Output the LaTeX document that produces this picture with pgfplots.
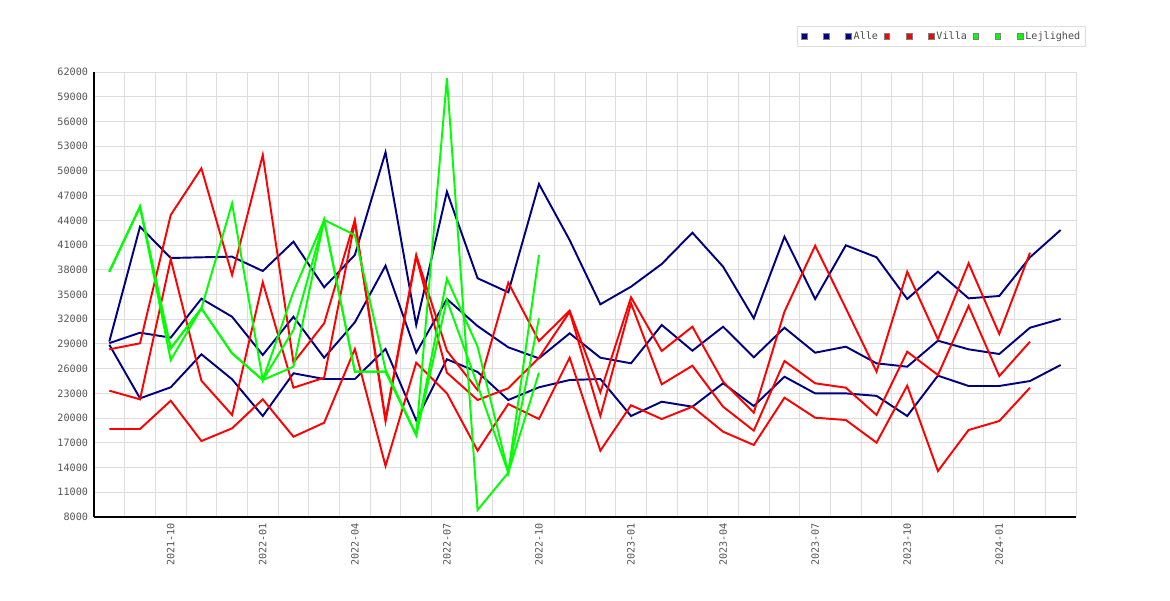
\documentclass[border=0pt]{standalone}
\usepackage{pgfplots}
\usepackage{pgfplotstable}
\usepackage{fontspec}
\pgfplotsset{compat=1.18}
\newfontfamily\monofont{DejaVu Sans Mono}
\definecolor{navyc}{HTML}{000080}
\definecolor{redc}{HTML}{FF0000}
\definecolor{greenc}{HTML}{00FF00}
\definecolor{gridc}{HTML}{DDDDDD}
\definecolor{labc}{HTML}{555555}

% Alle (navy): x  hi  mid  lo
\pgfplotstableread{
x a b c
0 29300 29100 28900
1 43230 30365 22400
2 39430 29760 23740
3 39515 34490 27745
4 39590 32300 24710
5 37850 27660 20255
6 41410 32300 25440
7 35875 27330 24745
8 39795 31625 24745
9 52260 38500 28390
10 31300 27940 19730
11 47475 34450 27140
12 36970 31170 25600
13 35270 28590 22200
14 48410 27255 23740
15 41600 30290 24625
16 33810 27330 24745
17 35950 26650 20255
18 38700 31300 21990
19 42500 28180 21385
20 38375 31090 24225
21 32110 27375 21470
22 42015 30970 25025
23 34450 27940 23000
24 40970 28670 23000
25 39515 26650 22700
26 34450 26240 20255
27 37770 29395 25150
28 34535 28350 23900
29 34820 27780 23900
30 39515 30970 24500
31 42830 32030 26445
}\alle

% Villa (red)
\pgfplotstableread{
x a b c
0 28350 23330 18680
1 29080 22280 18680
2 44650 39270 22110
3 50310 24540 17220
4 37370 20380 18760
5 51930 36480 22280
6 26730 23690 17740
7 31505 24900 19440
8 44040 43800 28390
9 19900 19600 14190
10 39795 39600 26730
11 28180 25515 23010
12 23410 22200 16050
13 36430 23620 21710
14 29360 27330 19890
15 33035 32900 27330
16 23130 20255 16050
17 34660 33930 21560
18 28145 24100 19890
19 31090 26360 21385
20 24420 21385 18350
21 20660 18475 16740
22 32915 26930 22480
23 40920 24225 20050
24 33320 23690 19770
25 25640 20380 17020
26 37770 28060 23935
27 29560 25230 13580
28 38785 33600 18555
29 30210 25100 19650
30 40075 29275 23690
}\villa

% Lejlighed (green)
\pgfplotstableread{
x a b c
0 37770 37770 37770
1 45660 45660 45660
2 28470 28470 27050
3 33320 33320 33320
4 46050 27860 27860
5 24625 24625 24625
6 35335 30690 26240
7 44040 44040 44040
8 42220 25640 25640
9 25900 25640 25640
10 17950 17950 17950
11 61240 36930 34330
12 8850 28670 24000
13 13380 13380 13380
14 39795 32110 25515
}\lejl

\begin{document}
\begin{tikzpicture}
\begin{axis}[
  at={(0pt,0pt)}, anchor=south west,
  scale only axis,
  width=736.5pt, height=333.75pt,
  xmin=-0.5, xmax=31.5,
  ymin=8000, ymax=62000,
  axis x line*=bottom, axis y line*=left,
  axis line style={-, black, line width=1.1pt},
  xtick={2,5,8,11,14,17,20,23,26,29},
  xticklabels={2021-10,2022-01,2022-04,2022-07,2022-10,2023-01,2023-04,2023-07,2023-10,2024-01},
  minor xtick={-0.5,0.5,...,31.5},
  ytick={8000,11000,...,62000},
  scaled y ticks=false,
  xmajorgrids=false, xminorgrids=true, ymajorgrids=true,
  major grid style={draw=gridc, line width=0.75pt},
  minor grid style={draw=gridc, line width=0.75pt},
  major tick length=0pt, minor tick length=0pt,
  tick label style={font=\monofont\fontsize{7.6}{8}\selectfont, text=labc},
  /pgf/number format/assume math mode=true,
  /pgf/number format/set thousands separator={},
  yticklabel style={inner sep=0pt, anchor=east},
  yticklabel shift=4.3pt,
  xticklabel style={inner sep=0pt, rotate=90, anchor=east},
  xticklabel shift=4.3pt,
  legend columns=9,
  legend image code/.code={\draw[#1, draw=gray, line width=0.5pt] (0pt,-2.15pt) rectangle (4.3pt,2.15pt);},
  legend style={at={(0.7159,1)}, anchor=south west, yshift=18.75pt,
    draw=gridc, line width=0.75pt, fill=white,
    font=\monofont\fontsize{7.6}{8}\selectfont, text=black!70,
    inner xsep=2.5pt, inner ysep=3pt,
    nodes={inner xsep=1.6pt, inner ysep=1pt},
    /tikz/every even column/.append style={column sep=2.6pt}},
  legend cell align=left,
  every axis plot/.append style={line width=1.45pt},
]
\addlegendimage{fill=navyc}\addlegendentry{\hspace*{6pt}}
\addlegendimage{fill=navyc}\addlegendentry{\hspace*{6pt}}
\addlegendimage{fill=navyc}\addlegendentry{Alle}
\addlegendimage{fill=redc}\addlegendentry{\hspace*{6pt}}
\addlegendimage{fill=redc}\addlegendentry{\hspace*{6pt}}
\addlegendimage{fill=redc}\addlegendentry{Villa}
\addlegendimage{fill=greenc}\addlegendentry{\hspace*{6pt}}
\addlegendimage{fill=greenc}\addlegendentry{\hspace*{6pt}}
\addlegendimage{fill=greenc}\addlegendentry{Lejlighed}

\addplot[navyc, forget plot] table[x=x, y=a] {\alle};
\addplot[navyc, forget plot] table[x=x, y=b] {\alle};
\addplot[navyc, forget plot] table[x=x, y=c] {\alle};
\addplot[redc, forget plot] table[x=x, y=a] {\villa};
\addplot[redc, forget plot] table[x=x, y=b] {\villa};
\addplot[redc, forget plot] table[x=x, y=c] {\villa};
\addplot[greenc, forget plot] table[x=x, y=a] {\lejl};
\addplot[greenc, forget plot] table[x=x, y=b] {\lejl};
\addplot[greenc, forget plot] table[x=x, y=c] {\lejl};
\end{axis}
\pgfresetboundingbox
\path (-70.5pt,-62.25pt) rectangle (807pt,387.75pt);
\end{tikzpicture}
\end{document}
